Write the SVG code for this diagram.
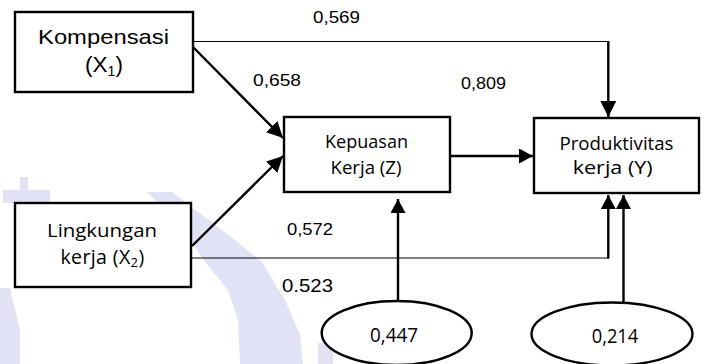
<svg xmlns="http://www.w3.org/2000/svg" width="702" height="364" viewBox="0 0 702 364">
<style>
.box{fill:#fff;stroke:#000;stroke-width:2.4}
.ell{fill:#fff;stroke:#000;stroke-width:2.4}
.thick{fill:none;stroke:#000;stroke-width:2.4}
.thin{fill:none;stroke:#000;stroke-width:1}
.ar{font-family:"Liberation Sans",Arial,sans-serif;font-weight:normal;fill:#000}
.ca{font-family:"Open Sans","Noto Sans",sans-serif;font-weight:normal;fill:#000;text-anchor:middle}
.wm{fill:#e2e2f6;stroke:none}
</style>
<defs>
<marker id="ah" markerUnits="userSpaceOnUse" markerWidth="17" markerHeight="16" refX="16" refY="8" orient="auto">
<path d="M0,0 L16,8 L0,16 z" fill="#000"/>
</marker>
<marker id="ahs" markerUnits="userSpaceOnUse" markerWidth="15" markerHeight="16" refX="14" refY="7.5" orient="auto">
<path d="M0,0 L14,7.5 L0,15 z" fill="#000"/>
</marker>
</defs>
<rect width="702" height="364" fill="#fff"/>
<g id="watermark">
<path class="wm" d="M20,177 H28 V190 H50 V203 H3 V190 H20 Z"/>
<path class="wm" d="M0,288 L10,288 L20,330 L20,364 L0,364 Z"/>
<path class="wm" d="M147,192 L172,192 L215,225 L235,240 L262,262 L285,300 L300,335 L303,364 L240,364 L238,320 L228,290 L205,262 L190,240 L165,210 Z"/>
<path class="wm" d="M318,343 L333,343 L333,364 L318,364 Z"/>
</g>
<g id="connectors">
<line class="thin" x1="193" y1="41.5" x2="609" y2="41.5"/>
<line class="thick" x1="608.3" y1="41" x2="608.3" y2="117" marker-end="url(#ah)"/>
<line class="thick" x1="193" y1="47" x2="283" y2="138" marker-end="url(#ah)"/>
<line class="thick" x1="192" y1="246" x2="283" y2="156" marker-end="url(#ah)"/>
<line class="thick" x1="451" y1="156" x2="533" y2="156" marker-end="url(#ahs)"/>
<line class="thin" x1="191" y1="258" x2="609" y2="258"/>
<line class="thick" x1="608.3" y1="258.5" x2="608.3" y2="195" marker-end="url(#ahs)"/>
<line class="thick" x1="623.5" y1="302" x2="623.5" y2="195" marker-end="url(#ahs)"/>
<line class="thick" x1="398" y1="300" x2="398" y2="199" marker-end="url(#ahs)"/>
</g>
<g id="labels">
<text class="ar" x="313" y="23" font-size="16" textLength="47" lengthAdjust="spacingAndGlyphs">0,569</text>
<text class="ar" x="253" y="86" font-size="16.5" textLength="48" lengthAdjust="spacingAndGlyphs">0,658</text>
<text class="ar" x="461" y="89" font-size="16.5" textLength="45" lengthAdjust="spacingAndGlyphs">0,809</text>
<text class="ar" x="287" y="235" font-size="16" textLength="46" lengthAdjust="spacingAndGlyphs">0,572</text>
<text class="ar" x="282" y="292" font-size="18.5" textLength="51" lengthAdjust="spacingAndGlyphs">0.523</text>
</g>
<g id="X1">
<rect class="box" x="15" y="12" width="178" height="80"/>
<text class="ar" x="38" y="44" font-size="21" textLength="131" lengthAdjust="spacingAndGlyphs">Kompensasi</text>
<text class="ar" x="104" y="71.5" font-size="22.5" text-anchor="middle">(X<tspan font-size="14" dy="4">1</tspan><tspan dy="-4">)</tspan></text>
</g>
<g id="X2">
<rect class="box" x="15" y="203" width="176" height="84"/>
<text class="ca" x="102" y="237" font-size="19" textLength="110" lengthAdjust="spacingAndGlyphs">Lingkungan</text>
<text class="ca" x="102.5" y="264" font-size="19.5" letter-spacing="0.4">kerja (X<tspan font-size="13" dy="3">2</tspan><tspan dy="-3">)</tspan></text>
</g>
<g id="Z">
<rect class="box" x="284" y="117" width="166" height="75"/>
<text class="ca" x="366.5" y="148" font-size="18.5" textLength="83" lengthAdjust="spacingAndGlyphs">Kepuasan</text>
<text class="ca" x="366" y="174" font-size="18.5" textLength="71" lengthAdjust="spacingAndGlyphs">Kerja (Z)</text>
</g>
<g id="Y">
<rect class="box" x="534" y="118" width="165" height="75"/>
<text class="ca" x="616.5" y="150" font-size="17.5" textLength="114" lengthAdjust="spacingAndGlyphs">Produktivitas</text>
<text class="ca" x="612.7" y="174" font-size="17.5" textLength="80" lengthAdjust="spacingAndGlyphs">kerja (Y)</text>
</g>
<g id="e1">
<ellipse class="ell" cx="396.7" cy="333" rx="75" ry="32"/>
<text class="ca" x="394" y="342" font-size="20" textLength="48" lengthAdjust="spacingAndGlyphs">0,447</text>
</g>
<g id="e2">
<ellipse class="ell" cx="612" cy="334" rx="80.5" ry="31.5"/>
<text class="ca" x="615" y="343" font-size="20" textLength="46.6" lengthAdjust="spacingAndGlyphs">0,214</text>
</g>
</svg>
